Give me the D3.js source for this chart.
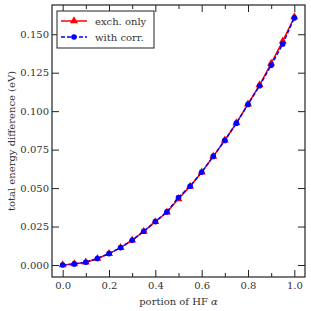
<!DOCTYPE html>
<meta charset="utf-8">
<style>
body { margin: 0; background: #fff; }
svg { display: block; }
.axis text, .lbl { font-family: "DejaVu Serif", serif; font-size: 10px; fill: #333; }
</style>
<svg id="chart" width="311" height="311"></svg>
<script src="https://cdn.jsdelivr.net/npm/d3@7"></script>
<script>
// portion of HF alpha
var alpha = [0, 0.05, 0.1, 0.15, 0.2, 0.25, 0.3, 0.35, 0.4, 0.45, 0.5,
             0.55, 0.6, 0.65, 0.7, 0.75, 0.8, 0.85, 0.9, 0.95, 1.0];
// exch. only
var exchOnly = [0.0000, 0.0007, 0.0018, 0.0042, 0.0074, 0.0113, 0.0161, 0.0219, 0.0281, 0.0343, 0.0430,
                0.0511, 0.0603, 0.0706, 0.0811, 0.0923, 0.1045, 0.1170, 0.1310, 0.1455, 0.1612];
// with corr.
var withCorr = [0.0000, 0.0007, 0.0018, 0.0042, 0.0074, 0.0113, 0.0161, 0.0219, 0.0282, 0.0345, 0.0439,
                0.0512, 0.0603, 0.0706, 0.0810, 0.0922, 0.1044, 0.1165, 0.1298, 0.1437, 0.1606];
var xTicks = [0, 0.2, 0.4, 0.6, 0.8, 1.0];
var xMinor = [0.1, 0.3, 0.5, 0.7, 0.9];
var yTicks = [0, 0.025, 0.05, 0.075, 0.1, 0.125, 0.15];

var margin = {top: 5, right: 6, bottom: 34, left: 52},
    width = 311 - margin.left - margin.right,
    height = 311 - margin.top - margin.bottom;

var svg = d3.select("#chart");
var g = svg.append("g").attr("transform", "translate(" + margin.left + "," + margin.top + ")");

var x = d3.scaleLinear().domain([-0.046, 1.046]).range([0, width]);
var y = d3.scaleLinear().domain([-0.0078, 0.169]).range([height, 0]);

// axes, ticks pointing inward
function styleAxis(sel) {
  sel.select(".domain").remove();
  sel.selectAll("line").attr("stroke", "#222");
}
g.append("g").attr("class", "axis")
  .attr("transform", "translate(0," + height + ")")
  .call(d3.axisBottom(x).tickValues(xTicks).tickFormat(d3.format(".1f")).tickSizeInner(-7).tickPadding(5))
  .call(styleAxis);
g.append("g").attr("class", "axis")
  .attr("transform", "translate(0," + height + ")")
  .call(d3.axisBottom(x).tickValues(xMinor).tickFormat("").tickSizeInner(-4))
  .call(styleAxis);
g.append("g").attr("class", "axis")
  .call(d3.axisTop(x).tickValues(xTicks).tickFormat("").tickSizeInner(-7))
  .call(styleAxis);
g.append("g").attr("class", "axis")
  .call(d3.axisTop(x).tickValues(xMinor).tickFormat("").tickSizeInner(-4))
  .call(styleAxis);
g.append("g").attr("class", "axis")
  .call(d3.axisLeft(y).tickValues(yTicks).tickFormat(d3.format(".3f")).tickSizeInner(-7).tickPadding(3))
  .call(styleAxis);
g.append("g").attr("class", "axis")
  .attr("transform", "translate(" + width + ",0)")
  .call(d3.axisRight(y).tickValues(yTicks).tickFormat("").tickSizeInner(-7))
  .call(styleAxis);

g.append("rect")
  .attr("width", width).attr("height", height)
  .attr("fill", "none").attr("stroke", "#222").attr("stroke-width", 1.2);

var line = d3.line()
  .x(function(d, i) { return x(alpha[i]); })
  .y(function(d) { return y(d); });

var tri = d3.symbol().type(d3.symbolTriangle).size(28);

// exch. only
g.append("path").datum(exchOnly)
  .attr("fill", "none").attr("stroke", "#ff0000").attr("stroke-width", 1.5)
  .attr("d", line);
g.selectAll(".tri").data(exchOnly).enter().append("path")
  .attr("class", "tri")
  .attr("transform", function(d, i) { return "translate(" + x(alpha[i]) + "," + y(d) + ")"; })
  .attr("d", tri).attr("fill", "#ff0000");

// with corr.
g.append("path").datum(withCorr)
  .attr("fill", "none").attr("stroke", "#0000ff").attr("stroke-width", 1.5)
  .attr("stroke-dasharray", "4,2")
  .attr("d", line);
g.selectAll(".dot").data(withCorr).enter().append("circle")
  .attr("class", "dot")
  .attr("cx", function(d, i) { return x(alpha[i]); })
  .attr("cy", function(d) { return y(d); })
  .attr("r", 2.8).attr("fill", "#0000ff");

// legend
var leg = svg.append("g").attr("transform", "translate(57,11)");
leg.append("rect").attr("width", 97).attr("height", 37)
  .attr("fill", "#fff").attr("stroke", "#222").attr("stroke-width", 1);
var r1 = leg.append("g").attr("transform", "translate(0,10)");
r1.append("line").attr("x1", 4).attr("x2", 30).attr("stroke", "#ff0000").attr("stroke-width", 1.5);
r1.append("path").attr("transform", "translate(17,0)").attr("d", tri).attr("fill", "#ff0000");
r1.append("text").attr("class", "lbl").attr("x", 38).attr("dy", "0.35em").text("exch. only");
var r2 = leg.append("g").attr("transform", "translate(0,26)");
r2.append("line").attr("x1", 4).attr("x2", 30).attr("stroke", "#0000ff").attr("stroke-width", 1.5).attr("stroke-dasharray", "4,2");
r2.append("circle").attr("cx", 17).attr("r", 2.8).attr("fill", "#0000ff");
r2.append("text").attr("class", "lbl").attr("x", 38).attr("dy", "0.35em").text("with corr.");

// axis titles
svg.append("text").attr("class", "lbl")
  .attr("x", margin.left + width / 2).attr("y", 305)
  .attr("text-anchor", "middle")
  .text("portion of HF ")
  .append("tspan").attr("font-style", "italic").text("\u03B1");
svg.append("text").attr("class", "lbl")
  .attr("transform", "translate(15," + (margin.top + height / 2) + ") rotate(-90)")
  .attr("text-anchor", "middle")
  .text("total energy difference (eV)");
</script>
